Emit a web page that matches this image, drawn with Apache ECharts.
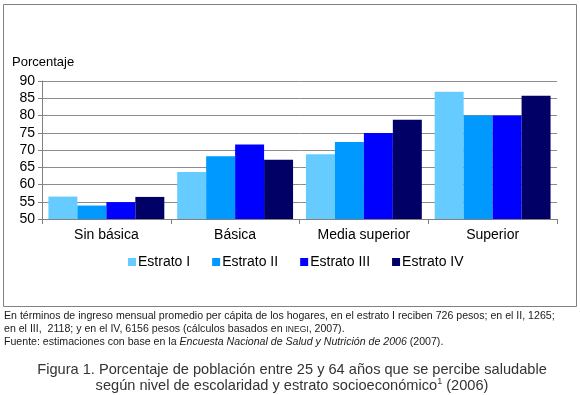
<!DOCTYPE html>
<html>
<head>
<meta charset="utf-8">
<script src="https://cdn.jsdelivr.net/npm/echarts@6/dist/echarts.min.js"></script>
<style>
  html, body { margin: 0; padding: 0; background: #fff; }
  #chart { width: 580px; height: 395px; }
</style>
</head>
<body>
<div id="chart"></div>
<script>
// datos
const niveles = ["Sin básica", "Básica", "Media superior", "Superior"];
const estratos = ["Estrato I", "Estrato II", "Estrato III", "Estrato IV"];
const estratoI = [56.5, 63.6, 68.8, 86.9];
const estratoII = [53.9, 68.2, 72.3, 80.0];
const estratoIII = [54.9, 71.6, 74.9, 80.0];
const estratoIV = [56.4, 67.2, 78.8, 85.7];
const valores = [estratoI, estratoII, estratoIII, estratoIV];
const colores = ["#66ccff", "#0099ff", "#0000ff", "#000066"];

const fuente = "Liberation Sans, Arial, sans-serif";
const chart = echarts.init(document.getElementById("chart"));

chart.setOption({
  animation: false,
  textStyle: { fontFamily: fuente },
  grid: { left: 42, right: 23, top: 81, bottom: 176 },
  legend: {
    data: estratos,
    left: 123,
    top: 250,
    icon: "rect",
    itemWidth: 8,
    itemHeight: 8,
    itemGap: 22,
    textStyle: { color: "#000", fontSize: 14, fontFamily: fuente, padding: [0, 0, 0, -3] },
  },
  xAxis: {
    type: "category",
    data: niveles,
    axisLine: { lineStyle: { color: "#808080" } },
    axisTick: { show: true, length: 5, lineStyle: { color: "#808080" } },
    axisLabel: { color: "#000", fontSize: 14, margin: 9 },
  },
  yAxis: {
    type: "value",
    min: 50,
    max: 90,
    interval: 5,
    name: "Porcentaje",
    nameLocation: "end",
    nameGap: 12,
    nameTextStyle: { color: "#000", fontSize: 13, align: "left", padding: [0, 0, 0, -30] },
    axisLine: { show: true, lineStyle: { color: "#808080" } },
    axisTick: { show: true, length: 4, lineStyle: { color: "#808080" } },
    axisLabel: { color: "#000", fontSize: 14, margin: 7 },
    splitLine: { lineStyle: { color: "#8c8c8c" } },
  },
  series: estratos.map((nombre, i) => ({
    name: nombre,
    type: "bar",
    data: valores[i],
    barGap: "0%",
    barCategoryGap: "10%",
    itemStyle: { color: colores[i] },
  })),
  graphic: [
    {
      type: "rect",
      shape: { x: 3.5, y: 4.5, width: 573, height: 302 },
      style: { fill: "none", stroke: "#808080", lineWidth: 1 },
      silent: true,
    },
    {
      type: "text",
      left: 4,
      top: 310,
      style: {
        text: "En términos de ingreso mensual promedio per cápita de los hogares, en el estrato I reciben 726 pesos; en el II, 1265;\n" +
              "en el III,  2118; y en el IV, 6156 pesos (cálculos basados en {sc|INEGI}, 2007).\n" +
              "Fuente: estimaciones con base en la {it|Encuesta Nacional de Salud y Nutrición de 2006} (2007).",
        font: "10.6px " + fuente,
        fill: "#1a1a1a",
        lineHeight: 13,
        rich: {
          sc: { fontSize: 8.5, fontFamily: fuente, fill: "#1a1a1a" },
          it: { fontSize: 10.6, fontStyle: "italic", fontFamily: fuente, fill: "#1a1a1a" },
        },
      },
    },
    {
      type: "text",
      x: 292,
      y: 362,
      style: {
        text: "Figura 1. Porcentaje de población entre 25 y 64 años que se percibe saludable\n" +
              "según nivel de escolaridad y estrato socioeconómico{sup|1} (2006)",
        font: "14.6px " + fuente,
        fill: "#333",
        align: "center",
        lineHeight: 16,
        rich: {
          sup: { fontSize: 9, fontFamily: fuente, fill: "#333", padding: [0, 0, 8, 0] },
        },
      },
    },
  ],
});
</script>
</body>
</html>
